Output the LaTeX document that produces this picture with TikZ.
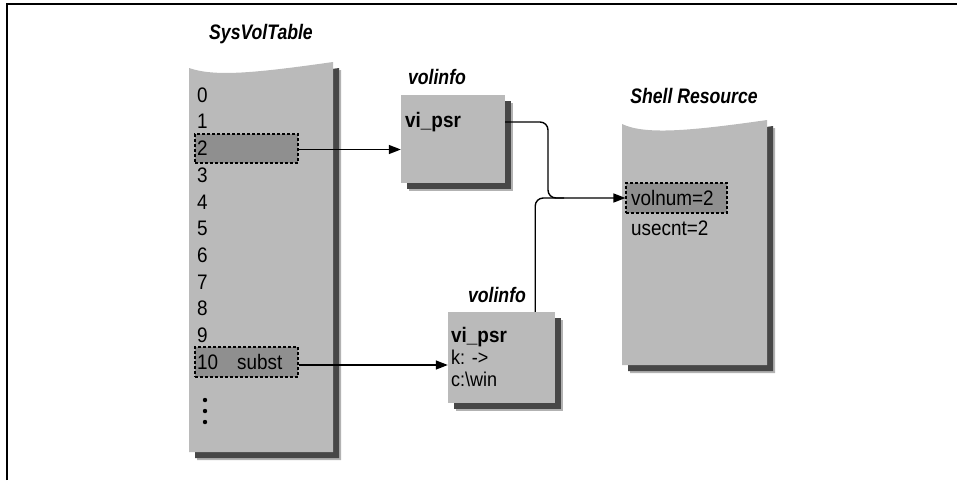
\documentclass[tikz,border=0pt]{standalone}
\usepackage{fontspec}
\setmainfont{Liberation Sans}[FakeStretch=0.9]
\newfontfamily\titlefont{Liberation Sans}[FakeStretch=0.84]
\usetikzlibrary{arrows.meta,calc,shadows}
\definecolor{panel}{gray}{0.73}
\definecolor{hilite}{gray}{0.56}
\tikzset{
  shadowed/.style={general shadow={shadow xshift=8pt,shadow yshift=-8pt,fill=black!30},
                   general shadow={shadow xshift=6pt,shadow yshift=-6pt,fill=black!72}},
  vbox/.style={fill=panel,draw=none,inner sep=0pt,shadowed},
  hl/.style={fill=hilite,draw=black,line width=1.1pt,dash pattern=on 3pt off 2pt,inner sep=0pt},
  txt/.style={font=\fontsize{21}{25}\selectfont,inner sep=0pt,anchor=west},
  stxt/.style={font=\fontsize{20}{24}\selectfont,inner sep=0pt,anchor=west},
  btxt/.style={font=\fontsize{21}{25}\selectfont\bfseries,inner sep=0pt,anchor=west},
  ttl/.style={font=\titlefont\fontsize{21}{25}\selectfont\bfseries\itshape,inner sep=0pt},
  conn/.style={line width=1.4pt,draw=black},
  tip/.style={-{Triangle[length=12pt,width=9pt]}}
}
\begin{document}
\begin{tikzpicture}[x=1pt,y=-1pt]
\useasboundingbox (0,0) rectangle (957,480);
% frame
\draw[line width=2pt] (7,480) -- (7,4) -- (957,4);

% titles
\node[ttl] (t-svt) at (261,34) {SysVolTable};
\node[ttl] (t-vi1) at (437,77) {volinfo};
\node[ttl] (t-vi2) at (497,295) {volinfo};
\node[ttl] (t-sr) at (694,96) {Shell Resource};

% SysVolTable column
\path[fill=panel,shadowed] (189,68) .. controls (215,77) and (255,73) .. (333,62) -- (333,452) -- (189,452) -- cycle;
\node[hl,minimum width=103pt,minimum height=29pt] (hl2) at (246.5,148.5) {};
\node[hl,minimum width=103pt,minimum height=30pt] (hl10) at (246.5,362) {};
\foreach \i in {0,...,9}{
  \node[txt] (n\i) at (197,{95+26.7*\i}) {\i};
}
\node[txt] (n10) at (197,362) {10};
\node[txt] (subst) at (237,362) {subst};
\foreach \k in {0,1,2}{
  \fill (205,{400+11*\k}) circle (2.2pt);
}

% volinfo 1
\node[vbox,minimum width=104pt,minimum height=88pt] (vi1) at (453,139) {};
\node[btxt] (psr1) at (405,122) {vi\_psr};

% volinfo 2
\node[vbox,minimum width=107pt,minimum height=91pt] (vi2) at (501.5,357.5) {};
\node[btxt] (psr2) at (451,337) {vi\_psr};
\node[stxt] (k2) at (451,357) {k: ->};
\node[stxt] (c2) at (451,379) {c:\textbackslash win};

% Shell Resource
\path[fill=panel,shadowed] (622,124) .. controls (645,135) and (690,131) .. (767,120) -- (767,365) -- (622,365) -- cycle;
\node[hl,minimum width=101pt,minimum height=30pt] (vn) at (676.5,198) {};
\node[txt] (vntxt) at (631,198) {volnum=2};
\node[txt] (uc) at (631,228) {usecnt=2};

% connectors
\draw[conn,tip] ([yshift=-1pt]hl2.east) -- ([yshift=-1pt]vi1.west |- hl2.east);
\draw[conn,tip] ([yshift=-3pt]hl10.east) -- ([yshift=-3pt]vi2.west |- hl10.east);
\coordinate (j1) at (548,198);
\coordinate (v2out) at ([xshift=-20pt]vi2.north east);
\draw[conn,rounded corners=8pt] (v2out) |- ($(j1)+(16,0)$);
\draw[conn,tip,rounded corners=8pt] (vi1.east |- psr1) -| (j1) -- (vn.west);
\end{tikzpicture}
\end{document}
